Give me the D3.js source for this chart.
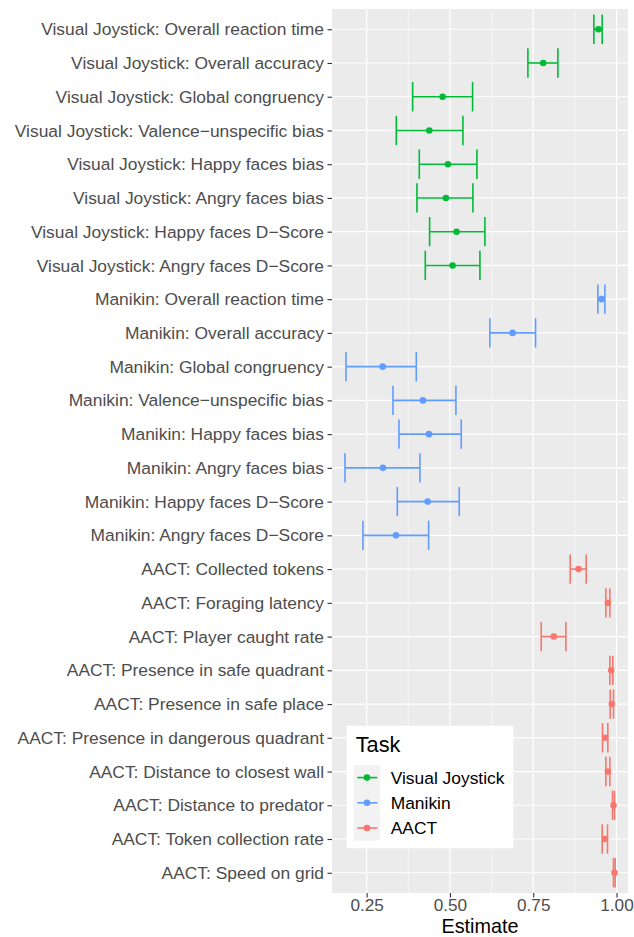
<!DOCTYPE html>
<html>
<head>
<meta charset="utf-8">
<script src="https://cdn.jsdelivr.net/npm/d3@7"></script>
<style>
  html, body { margin: 0; padding: 0; background: #fff; }
  svg { display: block; font-family: "Liberation Sans", Arial, Helvetica, sans-serif; }
</style>
</head>
<body>
<svg id="chart" width="634" height="937"></svg>
<script>
const labels = [
  "Visual Joystick: Overall reaction time",
  "Visual Joystick: Overall accuracy",
  "Visual Joystick: Global congruency",
  "Visual Joystick: Valence\u2212unspecific bias",
  "Visual Joystick: Happy faces bias",
  "Visual Joystick: Angry faces bias",
  "Visual Joystick: Happy faces D\u2212Score",
  "Visual Joystick: Angry faces D\u2212Score",
  "Manikin: Overall reaction time",
  "Manikin: Overall accuracy",
  "Manikin: Global congruency",
  "Manikin: Valence\u2212unspecific bias",
  "Manikin: Happy faces bias",
  "Manikin: Angry faces bias",
  "Manikin: Happy faces D\u2212Score",
  "Manikin: Angry faces D\u2212Score",
  "AACT: Collected tokens",
  "AACT: Foraging latency",
  "AACT: Player caught rate",
  "AACT: Presence in safe quadrant",
  "AACT: Presence in safe place",
  "AACT: Presence in dangerous quadrant",
  "AACT: Distance to closest wall",
  "AACT: Distance to predator",
  "AACT: Token collection rate",
  "AACT: Speed on grid"
];
const tasks = [
  "Visual Joystick","Visual Joystick","Visual Joystick","Visual Joystick",
  "Visual Joystick","Visual Joystick","Visual Joystick","Visual Joystick",
  "Manikin","Manikin","Manikin","Manikin","Manikin","Manikin","Manikin","Manikin",
  "AACT","AACT","AACT","AACT","AACT","AACT","AACT","AACT","AACT","AACT"
];
const estimates = [0.946, 0.780, 0.478, 0.438, 0.494, 0.488, 0.520, 0.508,
                   0.955, 0.688, 0.298, 0.419, 0.437, 0.299, 0.433, 0.338,
                   0.886, 0.974, 0.812, 0.984, 0.986, 0.966, 0.974, 0.991, 0.965, 0.994];
const lowers    = [0.932, 0.734, 0.388, 0.339, 0.408, 0.401, 0.439, 0.426,
                   0.944, 0.620, 0.188, 0.329, 0.347, 0.185, 0.342, 0.239,
                   0.861, 0.968, 0.774, 0.980, 0.981, 0.958, 0.968, 0.988, 0.957, 0.991];
const uppers    = [0.957, 0.824, 0.568, 0.539, 0.581, 0.569, 0.605, 0.590,
                   0.965, 0.757, 0.399, 0.518, 0.534, 0.410, 0.528, 0.436,
                   0.909, 0.980, 0.848, 0.989, 0.991, 0.974, 0.980, 0.994, 0.973, 0.996];
const taskOrder = ["Visual Joystick", "Manikin", "AACT"];
const taskColors = ["#00BA38", "#619CFF", "#F8766D"];
const xTicks = [0.25, 0.50, 0.75, 1.00];
const xMinor = [0.125, 0.375, 0.625, 0.875];

const data = labels.map((l, i) => ({label: l, task: tasks[i], est: estimates[i], lo: lowers[i], hi: uppers[i]}));

const svg = d3.select("#chart");
const panel = {left: 332, right: 628, top: 9, bottom: 893};

const x = d3.scaleLinear().domain([0.146, 1.0345]).range([panel.left, panel.right]);
const y = d3.scalePoint().domain(labels).range([panel.top, panel.bottom]).padding(0.6);
const color = d3.scaleOrdinal().domain(taskOrder).range(taskColors);

// panel background
svg.append("rect")
  .attr("x", panel.left).attr("y", panel.top)
  .attr("width", panel.right - panel.left).attr("height", panel.bottom - panel.top)
  .attr("fill", "#EBEBEB");

const grid = svg.append("g");
grid.selectAll("line.minor").data(xMinor).join("line")
  .attr("x1", d => x(d)).attr("x2", d => x(d))
  .attr("y1", panel.top).attr("y2", panel.bottom)
  .attr("stroke", "#fff").attr("stroke-width", 0.6);
grid.selectAll("line.majorx").data(xTicks).join("line")
  .attr("x1", d => x(d)).attr("x2", d => x(d))
  .attr("y1", panel.top).attr("y2", panel.bottom)
  .attr("stroke", "#fff").attr("stroke-width", 1.2);
grid.selectAll("line.majory").data(labels).join("line")
  .attr("x1", panel.left).attr("x2", panel.right)
  .attr("y1", d => y(d)).attr("y2", d => y(d))
  .attr("stroke", "#fff").attr("stroke-width", 1.2);

// error bars
const capH = y.step() * 0.87;
const marks = svg.append("g");
data.forEach(d => {
  const g = marks.append("g").attr("stroke", color(d.task)).attr("stroke-width", 1.6);
  const yc = y(d.label);
  g.append("line").attr("x1", x(d.lo)).attr("x2", x(d.hi)).attr("y1", yc).attr("y2", yc);
  g.append("line").attr("x1", x(d.lo)).attr("x2", x(d.lo)).attr("y1", yc - capH / 2).attr("y2", yc + capH / 2);
  g.append("line").attr("x1", x(d.hi)).attr("x2", x(d.hi)).attr("y1", yc - capH / 2).attr("y2", yc + capH / 2);
});
marks.selectAll("circle").data(data).join("circle")
  .attr("cx", d => x(d.est)).attr("cy", d => y(d.label)).attr("r", 3.3)
  .attr("fill", d => color(d.task));

// axes
const yAxis = d3.axisLeft(y).tickSize(4.5).tickPadding(3.5);
const gy = svg.append("g").attr("transform", `translate(${panel.left},0)`).call(yAxis);
gy.select(".domain").remove();
gy.selectAll(".tick line").attr("stroke", "#333333").attr("stroke-width", 1.1);
gy.selectAll(".tick text").attr("fill", "#4D4D4D").attr("font-size", "17.4px")
  .attr("font-family", "'Liberation Sans', Arial, sans-serif");

const xAxis = d3.axisBottom(x).tickValues(xTicks).tickFormat(d3.format(".2f")).tickSize(4.5).tickPadding(1.5);
const gx = svg.append("g").attr("transform", `translate(0,${panel.bottom})`).call(xAxis);
gx.select(".domain").remove();
gx.selectAll(".tick line").attr("stroke", "#333333").attr("stroke-width", 1.1);
gx.selectAll(".tick text").attr("fill", "#4D4D4D").attr("font-size", "17.2px")
  .attr("font-family", "'Liberation Sans', Arial, sans-serif");

svg.append("text")
  .attr("x", (panel.left + panel.right) / 2).attr("y", 932.6)
  .attr("text-anchor", "middle").attr("font-size", "19.8px").attr("fill", "#000")
  .text("Estimate");

// legend
const lg = svg.append("g").attr("transform", "translate(346.7,725.7)");
lg.append("rect").attr("width", 166.6).attr("height", 122.6).attr("fill", "#fff");
lg.append("text").attr("x", 9).attr("y", 26).attr("font-size", "21.75px").attr("fill", "#000").text("Task");
const keyTop = 39.3, keyH = 25.2;
lg.append("rect").attr("x", 7.3).attr("y", keyTop).attr("width", 26).attr("height", keyH * 3).attr("fill", "#F2F2F2");
taskOrder.forEach((t, i) => {
  const cy = keyTop + keyH * (i + 0.5);
  lg.append("line").attr("x1", 10.6).attr("x2", 30.6).attr("y1", cy).attr("y2", cy)
    .attr("stroke", color(t)).attr("stroke-width", 1.6);
  lg.append("circle").attr("cx", 20.3).attr("cy", cy).attr("r", 3.3).attr("fill", color(t));
  lg.append("text").attr("x", 44).attr("y", cy + 6.1).attr("font-size", "17.4px").attr("fill", "#000").text(t);
});
</script>
</body>
</html>
